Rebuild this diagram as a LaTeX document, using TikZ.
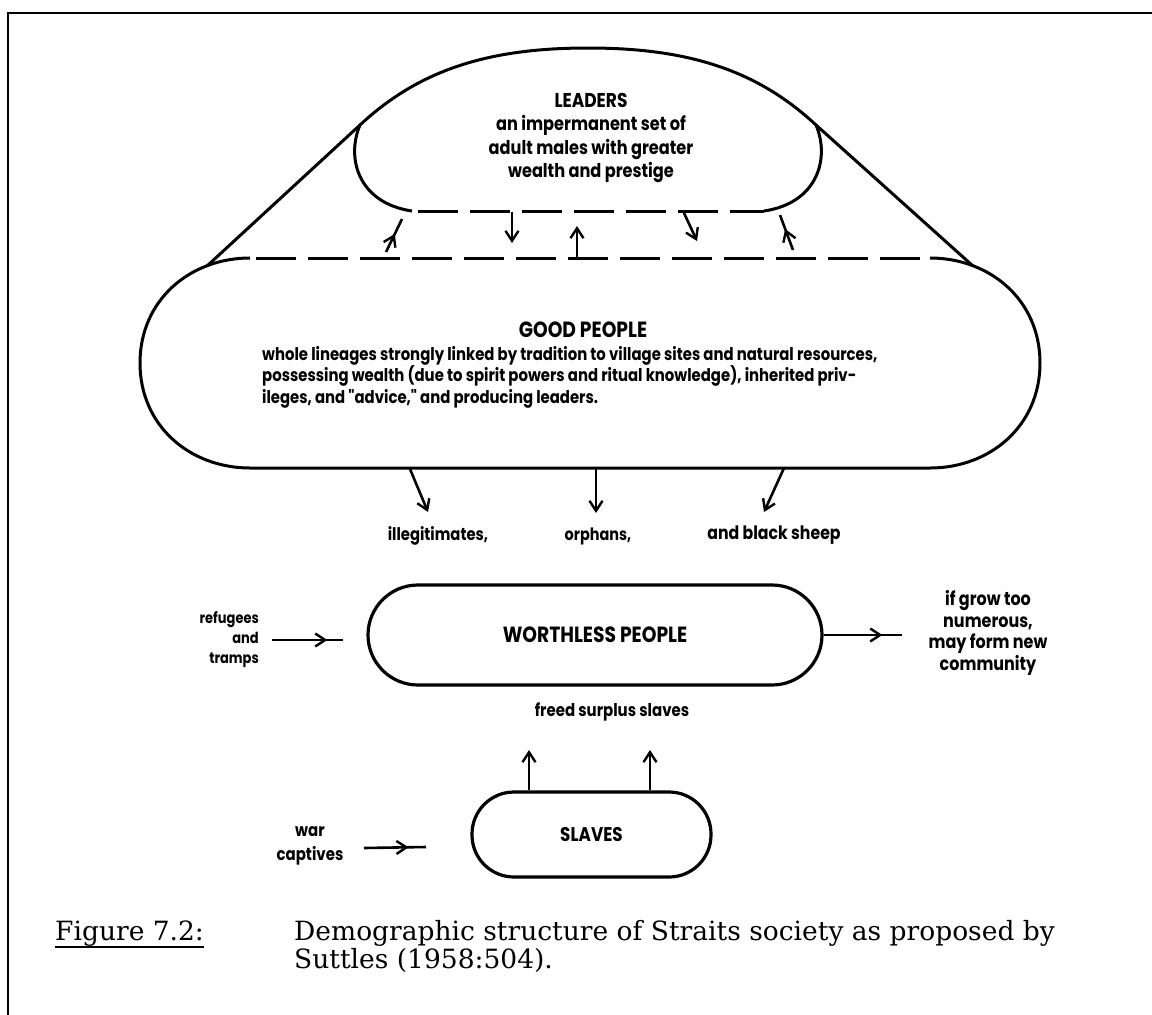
\documentclass[tikz,border=0pt]{standalone}
\usepackage{fontspec}
\setmainfont{DejaVu Serif}
\newfontfamily\hand{Poppins}[FakeStretch=0.85]
\usetikzlibrary{arrows.meta,decorations.markings}
\begin{document}
\begin{tikzpicture}[x=1pt,y=-1pt,
  ln/.style={line width=3pt},
  dsh/.style={line width=3pt, dash pattern=on 40pt off 12pt, dash phase=46pt},
  tip/.style={line width=2.6pt, -{Straight Barb[length=10pt,width=13pt,line width=2.4pt]}},
  midtip/.style={line width=2.6pt, postaction={decorate}, decoration={markings, mark=at position #1 with {\arrow{Straight Barb[length=10pt,width=13pt,line width=2.4pt]}}}},
  hw/.style={font=\hand\bfseries\fontsize{#1}{#1}\selectfont, inner sep=0pt, align=center},
  hw/.default=16,
  boxed/.style={draw, line width=3.2pt, inner sep=0pt},
]
\fill[white] (0,0) rectangle (1152,1015);
\useasboundingbox (0,0) rectangle (1152,1015);

% frame
\coordinate (fTL) at (8,13);
\coordinate (fTR) at (1152,13);
\coordinate (fBL) at (8,1015);
\draw[line width=2pt] (fTR) -- (fTL) -- (fBL);

% LEADERS
\coordinate (lL) at (360,125);
\coordinate (lR) at (816,125);
\coordinate (lBL) at (412,211);
\coordinate (lBR) at (764,211);
\draw[ln] (lBL) .. controls (358,203) and (346,158) .. (lL)
  .. controls (420,69) and (490,48) .. (588,48)
  .. controls (686,48) and (756,69) .. (lR)
  .. controls (830,158) and (818,203) .. (lBR);
\draw[dsh] (lBL) -- (lBR);
\node[hw=19, font=\hand\bfseries\fontsize{19}{23.5}\selectfont] (leaders) at (591,138)
  {{\fontsize{20}{23.5}\selectfont LEADERS}\\an impermanent set of\\adult males with greater\\wealth and prestige};

% GOOD PEOPLE
\coordinate (gTL) at (250,258);
\coordinate (gTR) at (930,258);
\coordinate (gBL) at (250,468);
\coordinate (gBR) at (930,468);
\coordinate (gjL) at (207,266);
\coordinate (gjR) at (973,266);
\draw[ln] (gTL) .. controls (190,258) and (140,300) .. (140,363)
  .. controls (140,426) and (190,468) .. (gBL) -- (gBR)
  .. controls (990,468) and (1040,426) .. (1040,363)
  .. controls (1040,300) and (990,258) .. (gTR);
\draw[dsh] (gTL) -- (gTR);
\draw[ln] (lL) -- (gjL);
\draw[ln] (lR) -- (gjR);
\node[hw=22] (gptitle) at (583,330) {GOOD PEOPLE};
\node[hw, anchor=west, align=left, font=\hand\bfseries\fontsize{17.5}{21.5}\selectfont] (gptext) at (262,377)
  {whole lineages strongly linked by tradition to village sites and natural resources,\\
   possessing wealth (due to spirit powers and ritual knowledge), inherited priv-\\
   ileges, and \char"0022 advice,\char"0022{} and producing leaders.};

% arrows between leaders and good people
\coordinate (a1s) at (386,252); \coordinate (a1e) at (402,219);
\coordinate (a2s) at (512,212); \coordinate (a2e) at (512,243);
\coordinate (a3s) at (577,257); \coordinate (a3e) at (577,226);
\coordinate (a4s) at (684,213); \coordinate (a4e) at (697,241);
\coordinate (a5s) at (793,250); \coordinate (a5e) at (780,215);
\draw[midtip=0.55] (a1s) -- (a1e);
\draw[tip] (a2s) -- (a2e);
\draw[tip] (a3s) -- (a3e);
\draw[tip] (a4s) -- (a4e);
\draw[midtip=0.6] (a5s) -- (a5e);

% outflow from good people
\node[hw=17.4] (ill) at (438,536) {illegitimates,};
\node[hw=17] (orph) at (598,536) {orphans,};
\node[hw=18.5] (bsheep) at (774,535) {and black sheep};
\coordinate (b1) at (410,469);
\coordinate (b2) at (596,469);
\coordinate (b3) at (784,468);
\coordinate (b1e) at (428,512);
\coordinate (b2e) at (596,513);
\coordinate (b3e) at (764,512);
\draw[tip] (b1) -- (b1e);
\draw[tip] (b2) -- (b2e);
\draw[tip] (b3) -- (b3e);

% WORTHLESS PEOPLE
\node[boxed, rounded corners=50pt, minimum width=454pt, minimum height=100pt,
  hw=22] (wp) at (595,635) {WORTHLESS PEOPLE};
\node[hw=15.3, align=right, anchor=east, font=\hand\bfseries\fontsize{15.3}{20}\selectfont] (refu) at (259,640) {refugees\\and\\tramps};
\coordinate (r1) at (272,640);
\coordinate (r2) at (343,640);
\draw[midtip=0.78] (r1) -- (r2);
\coordinate (wout) at (902,635);
\draw[midtip=0.75] (wp.east) -- (wout);
\node[hw=18.8, font=\hand\bfseries\fontsize{18.8}{21.5}\selectfont] (newc) at (988,633)
  {if grow too\\numerous,\\may form new\\community};

\node[hw=17.6] (freed) at (612,712) {freed surplus slaves};

% SLAVES
\node[boxed, rounded corners=42pt, minimum width=239pt, minimum height=85pt,
  hw=19.8] (sl) at (591.5,834.5) {SLAVES};
\coordinate (s1) at (529,750);
\coordinate (s2) at (650,750);
\draw[tip] (sl.north -| s1) -- (s1);
\draw[tip] (sl.north -| s2) -- (s2);
\node[hw=17.6, font=\hand\bfseries\fontsize{17.6}{24}\selectfont] (war) at (310,846) {war\\captives};
\coordinate (w1) at (364,848);
\coordinate (w2) at (426,847);
\draw[midtip=0.72] (w1) -- (w2);

% caption
\node[anchor=base west, inner sep=0pt, font=\fontsize{26.5}{30}\selectfont] (fig) at (55,940) {Figure 7.2:};
\draw[line width=1.5pt] (fig.base west) ++(0,7) coordinate (u1) -- (u1 -| fig.east);
\node[anchor=base west, inner sep=0pt, font=\fontsize{26.5}{30}\selectfont] (cap1) at (294,940)
  {Demographic structure of Straits society as proposed by};
\node[anchor=base west, inner sep=0pt, font=\fontsize{26.5}{30}\selectfont] (cap2) at (294,968)
  {Suttles (1958:504).};
\end{tikzpicture}
\end{document}
